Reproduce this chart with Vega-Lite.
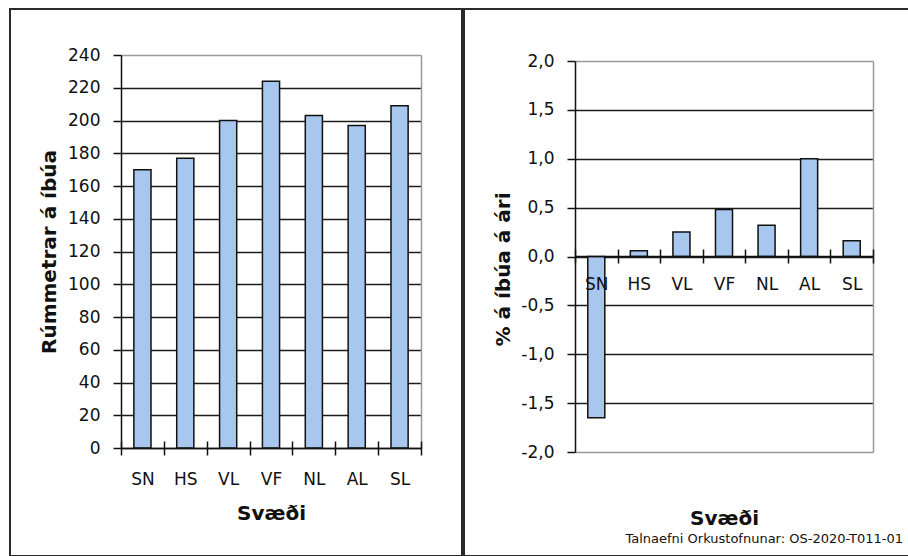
{
  "$schema": "https://vega.github.io/schema/vega-lite/v6.json",
  "padding": {"left": 9, "top": 8, "right": 0, "bottom": 0},
  "background": "white",
  "spacing": 0,
  "config": {
    "view": {"stroke": "#2a2a2a", "strokeWidth": 2},
    "font": "DejaVu Sans",
    "axis": {
      "labelFont": "DejaVu Sans", "labelColor": "#111", "labelFontSize": 17,
      "titleFont": "DejaVu Sans", "titleColor": "#111", "titleFontSize": 20, "titleFontWeight": "bold"
    }
  },
  "title": {
    "text": "Talnaefni Orkustofnunar: OS-2020-T011-01",
    "orient": "bottom", "anchor": "end", "fontSize": 13, "fontWeight": "normal",
    "font": "DejaVu Sans", "color": "#111", "offset": -24, "dx": -8
  },
  "datasets": {
    "main": [
      {"svaedi": "SN", "rummetrar": 170, "breyting": -1.65},
      {"svaedi": "HS", "rummetrar": 177, "breyting": 0.06},
      {"svaedi": "VL", "rummetrar": 200, "breyting": 0.25},
      {"svaedi": "VF", "rummetrar": 224, "breyting": 0.48},
      {"svaedi": "NL", "rummetrar": 203, "breyting": 0.32},
      {"svaedi": "AL", "rummetrar": 197, "breyting": 1.0},
      {"svaedi": "SL", "rummetrar": 209, "breyting": 0.16}
    ]
  },
  "hconcat": [
    {
      "width": 452,
      "height": 547,
      "data": {"name": "main"},
      "layer": [
        {
          "mark": {"type": "bar", "width": {"band": 0.4}, "fill": "#A7C7EE", "stroke": "#111", "strokeWidth": 1.5},
          "encoding": {
            "x": {
              "field": "svaedi", "type": "nominal", "sort": null,
              "scale": {"range": [111, 411], "paddingInner": 0, "paddingOuter": 0},
              "axis": {
                "orient": "bottom", "offset": -108, "title": "Svæði", "labelAngle": 0,
                "tickBand": "extent", "tickSize": 7, "tickColor": "#111", "tickWidth": 1.5,
                "domainColor": "#111", "domainWidth": 1.5, "grid": false, "labelPadding": 16,
                "titleBaseline": "alphabetic", "titleY": 71, "zindex": 1
              }
            },
            "y": {
              "field": "rummetrar", "type": "quantitative",
              "scale": {"domain": [0, 240], "range": [439, 46], "nice": false},
              "axis": {
                "orient": "left", "offset": -111,
                "values": [0, 20, 40, 60, 80, 100, 120, 140, 160, 180, 200, 220, 240],
                "title": "Rúmmetrar á íbúa", "titleBaseline": "alphabetic", "titleX": -66,
                "tickSize": 8, "labelPadding": 13, "tickColor": "#111", "tickWidth": 1.5,
                "grid": true,
                "gridColor": {"condition": {"test": "datum.value === 240", "value": "#9a9a9a"}, "value": "#1c1c1c"},
                "gridWidth": 1.5, "domainColor": "#111", "domainWidth": 1.5, "zindex": 0
              }
            }
          }
        },
        {
          "mark": {"type": "bar", "width": {"band": 0.4}, "opacity": 0},
          "encoding": {
            "x": {
              "field": "svaedi", "type": "nominal", "sort": null,
              "axis": {
                "orient": "top", "offset": -439, "labels": false, "domain": false, "grid": false,
                "tickBand": "extent", "tickSize": 7, "tickColor": "#111", "tickWidth": 1.5,
                "title": null, "zindex": 1
              }
            },
            "y": {
              "field": "rummetrar", "type": "quantitative",
              "axis": {
                "orient": "right", "offset": -41, "labels": false, "ticks": false, "grid": false,
                "domainColor": "#9a9a9a", "domainWidth": 1.5, "title": null
              }
            }
          }
        }
      ]
    },
    {
      "width": 446,
      "height": 547,
      "data": {"name": "main"},
      "layer": [
        {
          "mark": {"type": "bar", "width": {"band": 0.4}, "fill": "#A7C7EE", "stroke": "#111", "strokeWidth": 1.5},
          "encoding": {
            "x": {
              "field": "svaedi", "type": "nominal", "sort": null,
              "scale": {"range": [111, 409], "paddingInner": 0, "paddingOuter": 0},
              "axis": {
                "orient": "bottom", "offset": -300, "title": "Svæði", "labelAngle": 0,
                "tickBand": "extent", "tickSize": 7, "tickColor": "#111", "tickWidth": 1.5,
                "domainColor": "#111", "domainWidth": 1.5, "grid": false, "labelPadding": 13,
                "titleBaseline": "alphabetic", "titleY": 268, "zindex": 1
              }
            },
            "y": {
              "field": "breyting", "type": "quantitative",
              "scale": {"domain": [-2, 2], "range": [443, 52], "nice": false},
              "axis": {
                "orient": "left", "offset": -111,
                "values": [-2, -1.5, -1, -0.5, 0, 0.5, 1, 1.5, 2],
                "labelExpr": "replace(replace(format(datum.value, '.1f'), '.', ','), '−', '-')",
                "title": "% á íbúa á ári", "titleBaseline": "alphabetic", "titleX": -66, "titleY": 260,
                "tickSize": 8, "labelPadding": 13, "tickColor": "#111", "tickWidth": 1.5,
                "grid": true,
                "gridColor": {"condition": {"test": "datum.value === 2 || datum.value === -2", "value": "#9a9a9a"}, "value": "#1c1c1c"},
                "gridWidth": 1.5, "domainColor": "#111", "domainWidth": 1.5, "zindex": 0
              }
            }
          }
        },
        {
          "mark": {"type": "bar", "width": {"band": 0.4}, "opacity": 0},
          "encoding": {
            "x": {
              "field": "svaedi", "type": "nominal", "sort": null,
              "axis": {
                "orient": "top", "offset": -247, "labels": false, "domain": false, "grid": false,
                "tickBand": "extent", "tickSize": 7, "tickColor": "#111", "tickWidth": 1.5,
                "title": null, "zindex": 1
              }
            },
            "y": {
              "field": "breyting", "type": "quantitative",
              "axis": {
                "orient": "right", "offset": -37, "labels": false, "ticks": false, "grid": false,
                "domainColor": "#9a9a9a", "domainWidth": 1.5, "title": null
              }
            }
          }
        }
      ]
    }
  ]
}
